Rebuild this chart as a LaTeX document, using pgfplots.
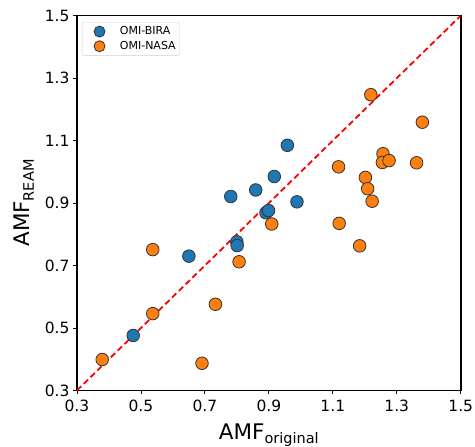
\documentclass[border=0pt]{standalone}
\usepackage{pgfplots}
\pgfplotsset{compat=1.18}
\usepackage{fontspec}
\setmainfont{DejaVu Sans}
\definecolor{tabblue}{RGB}{31,119,180}
\definecolor{taborange}{RGB}{255,127,14}
\begin{document}
\begin{tikzpicture}
\begin{axis}[
  scale only axis,
  width=384pt, height=375pt,
  xmin=0.3, xmax=1.5, ymin=0.3, ymax=1.5,
  xtick={0.3,0.5,0.7,0.9,1.1,1.3,1.5},
  ytick={0.3,0.5,0.7,0.9,1.1,1.3,1.5},
  xticklabels={0.3,0.5,0.7,0.9,1.1,1.3,1.5},
  yticklabels={0.3,0.5,0.7,0.9,1.1,1.3,1.5},
  tick align=outside,
  major tick length=4pt,
  tick style={black, line width=0.8pt},
  xtick pos=bottom, ytick pos=left,
  axis line style={line width=1.6pt},
  ticklabel style={font=\fontsize{15.5}{17}\selectfont},
  xticklabel style={yshift=-2pt},
  xlabel={\fontsize{21.5}{24}\selectfont AMF\raisebox{-4pt}{\fontsize{14.5}{16}\selectfont original}},
  ylabel={\fontsize{21.5}{24}\selectfont AMF\raisebox{-4pt}{\fontsize{14.5}{16}\selectfont REAM}},
  xlabel style={yshift=-5pt},
  ylabel style={yshift=4pt},
  legend cell align=left,
  legend style={at={(0.013,0.983)}, anchor=north west, draw=black!18, rounded corners=2pt,
    font=\fontsize{11}{12}\selectfont, row sep=1pt, inner xsep=2pt, inner ysep=2.5pt},
  legend image code/.code={\path (0pt,-4pt) (33pt,4pt); \draw[#1] (15pt,0pt) circle (5.5pt);},
]
\addplot[only marks, mark=*, mark size=6.3pt, fill=tabblue, draw=black!80, line width=0.8pt] coordinates {
(0.476,0.476) (0.650,0.730) (0.800,0.776) (0.801,0.764) (0.781,0.921)
(0.859,0.942) (0.917,0.985) (0.958,1.085) (0.891,0.869) (0.899,0.876) (0.988,0.904)
};
\addlegendentry{OMI-BIRA}
\addplot[only marks, mark=*, mark size=6.3pt, fill=taborange, draw=black!80, line width=0.8pt] coordinates {
(0.379,0.399) (0.537,0.546) (0.537,0.751) (0.733,0.576) (0.691,0.387) (0.807,0.712)
(0.909,0.833) (1.219,1.247) (1.380,1.159) (1.257,1.058) (1.255,1.030) (1.276,1.036)
(1.362,1.029) (1.118,1.016) (1.202,0.982) (1.209,0.946) (1.223,0.906) (1.120,0.835) (1.184,0.763)
};
\addlegendentry{OMI-NASA}
\addplot[red, dashed, line width=1.8pt, dash pattern=on 6pt off 3.5pt, forget plot] coordinates {(0.3,0.3) (1.5,1.5)};
\end{axis}
\pgfresetboundingbox
\path (current axis.south west)+(-77pt,-56pt) coordinate (a);
\path (current axis.north east)+(14.3pt,15.7pt) coordinate (b);
\path[use as bounding box] (a) rectangle (b);
\end{tikzpicture}
\end{document}
